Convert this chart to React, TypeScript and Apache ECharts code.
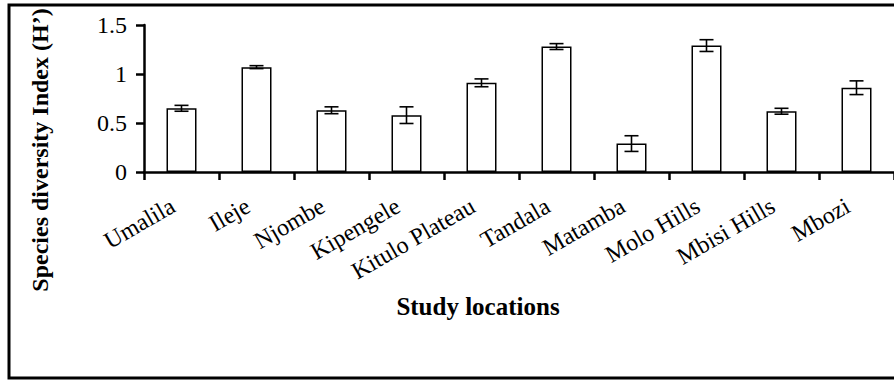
import React, { useEffect, useRef } from "react";
import * as echarts from "echarts";

const categories = [
  "Umalila",
  "Ileje",
  "Njombe",
  "Kipengele",
  "Kitulo Plateau",
  "Tandala",
  "Matamba",
  "Molo Hills",
  "Mbisi Hills",
  "Mbozi",
];
const diversity = [0.65, 1.07, 0.63, 0.58, 0.91, 1.28, 0.29, 1.29, 0.62, 0.86];
const errors = [0.03, 0.015, 0.035, 0.085, 0.04, 0.03, 0.08, 0.06, 0.03, 0.07];
const yTicks = { min: 0, max: 1.5, interval: 0.5 };
const yTitle = "Species diversity Index (H’)";
const xTitle = "Study locations";

const FONT = "Liberation Serif";

export default function App() {
  const ref = useRef<HTMLDivElement>(null);
  useEffect(() => {
    if (!ref.current) return;
    const chart = echarts.init(ref.current, null, { renderer: "svg" });
    const errData = diversity.map((v, i) => [i, v, errors[i]]);
    chart.setOption({
      animation: false,
      backgroundColor: "#ffffff",
      grid: { left: 144, top: 25, right: 0, height: 147, containLabel: false },
      xAxis: {
        type: "category",
        data: categories,
        axisLine: { show: true, lineStyle: { color: "#000", width: 2.5 } },
        axisTick: { show: true, alignWithLabel: false, length: 8, lineStyle: { color: "#000", width: 2.5 } },
        axisLabel: {
          rotate: 30,
          interval: 0,
          margin: 27,
          padding: [0, 10, 0, 0],
          color: "#000",
          fontFamily: FONT,
          fontSize: 24,
        },
        splitLine: { show: false },
      },
      yAxis: {
        type: "value",
        min: yTicks.min,
        max: yTicks.max,
        interval: yTicks.interval,
        axisLine: { show: true, lineStyle: { color: "#000", width: 2.5 } },
        axisTick: { show: true, length: 8, lineStyle: { color: "#000", width: 2.5 } },
        axisLabel: { color: "#000", fontFamily: FONT, fontSize: 24, margin: 17 },
        splitLine: { show: false },
      },
      series: [
        {
          type: "bar",
          data: diversity,
          barWidth: "40%",
          itemStyle: { color: "#ffffff", borderColor: "#000", borderWidth: 1.5 },
          z: 2,
        },
        {
          type: "custom",
          data: errData,
          z: 3,
          renderItem: (params: any, api: any) => {
            const x = api.value(0);
            const v = api.value(1);
            const e = api.value(2);
            const hi = api.coord([x, v + e]);
            const lo = api.coord([x, v - e]);
            const half = 7;
            const style = { stroke: "#000", lineWidth: 1.6 };
            return {
              type: "group",
              children: [
                { type: "line", shape: { x1: hi[0], y1: hi[1], x2: lo[0], y2: lo[1] }, style },
                { type: "line", shape: { x1: hi[0] - half, y1: hi[1], x2: hi[0] + half, y2: hi[1] }, style },
                { type: "line", shape: { x1: lo[0] - half, y1: lo[1], x2: lo[0] + half, y2: lo[1] }, style },
              ],
            };
          },
        },
      ],
      graphic: [
        {
          type: "rect",
          shape: { x: 9, y: 5, width: 900, height: 373 },
          style: { fill: "none", stroke: "#000", lineWidth: 3 },
          silent: true,
          z: 0,
        },
        {
          type: "text",
          x: 40,
          y: 150,
          rotation: Math.PI / 2,
          style: {
            text: yTitle,
            fontFamily: FONT,
            fontWeight: "bold",
            fontSize: 24,
            fill: "#000",
            align: "center",
            verticalAlign: "middle",
          },
        },
        {
          type: "text",
          x: 478,
          y: 306,
          style: {
            text: xTitle,
            fontFamily: FONT,
            fontWeight: "bold",
            fontSize: 25,
            fill: "#000",
            align: "center",
            verticalAlign: "middle",
          },
        },
      ],
    });
    return () => chart.dispose();
  }, []);
  return (
    <div
      ref={ref}
      style={{ position: "fixed", left: 0, top: 0, width: 894, height: 382, background: "#fff" }}
    />
  );
}
